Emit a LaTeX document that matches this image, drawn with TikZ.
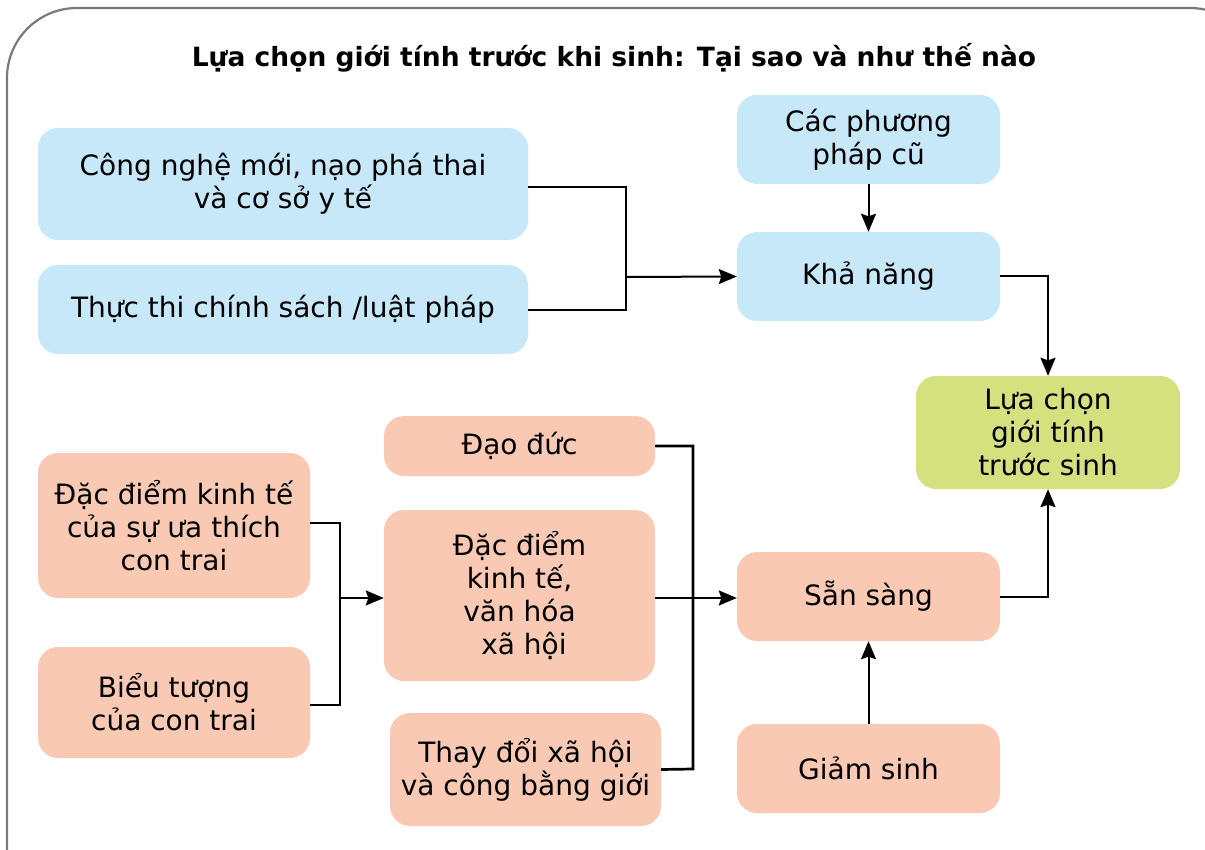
\documentclass[tikz,border=0pt]{standalone}
\usepackage{fontspec}
\setmainfont{DejaVu Sans}
\usetikzlibrary{arrows.meta}
\definecolor{bluebox}{HTML}{C7E8F8}
\definecolor{salmonbox}{HTML}{F9C9B4}
\definecolor{greenbox}{HTML}{D4E17E}
\definecolor{framegray}{HTML}{7A7A7A}
\tikzset{
  box/.style={rectangle, rounded corners=20pt, draw=none, align=center,
    font=\fontsize{28}{33}\selectfont, inner sep=0pt},
  bluestyle/.style={box, fill=bluebox},
  salmonstyle/.style={box, fill=salmonbox},
  greenstyle/.style={box, fill=greenbox},
  conn/.style={line width=2.7pt, black},
  arr/.style={line width=2pt, black, -{Stealth[length=18pt, width=15pt, inset=2.5pt]}},
}
\begin{document}
\begin{tikzpicture}[x=1pt, y=-1pt]
\useasboundingbox (0,0) rectangle (1205,850);
\draw[framegray, line width=2.2pt, rounded corners=70pt] (7,8) rectangle (1260,920);
\node[font=\bfseries\fontsize{26.5}{30}\selectfont] (title) at (614,58) {Lựa chọn giới tính trước khi sinh: Tại sao và như thế nào};

\node[bluestyle, minimum width=490pt, minimum height=112pt] (A) at (283,184) {Công nghệ mới, nạo phá thai\\và cơ sở y tế};
\node[bluestyle, minimum width=490pt, minimum height=89pt] (B) at (283,309.5) {Thực thi chính sách /luật pháp};
\node[bluestyle, minimum width=263pt, minimum height=89pt] (C) at (868.5,139.5) {Các phương\\pháp cũ};
\node[bluestyle, minimum width=263pt, minimum height=89pt] (D) at (868.5,276.5) {Khả năng};
\node[greenstyle, minimum width=264pt, minimum height=113pt] (E) at (1048,432.5) {Lựa chọn\\giới tính\\trước sinh};
\node[salmonstyle, minimum width=272pt, minimum height=145pt] (F) at (174,525.5) {Đặc điểm kinh tế\\của sự ưa thích\\con trai};
\node[salmonstyle, minimum width=272pt, minimum height=111pt] (G) at (174,702.5) {Biểu tượng\\của con trai};
\node[salmonstyle, minimum width=271pt, minimum height=60pt] (H) at (519.5,446) {Đạo đức};
\node[salmonstyle, minimum width=271pt, minimum height=171pt] (I) at (519.5,595.5) {Đặc điểm\\kinh tế,\\văn hóa\\\ xã hội};
\node[salmonstyle, minimum width=271pt, minimum height=113pt] (J) at (525.5,769.5) {Thay đổi xã hội\\và công bằng giới};
\node[salmonstyle, minimum width=263pt, minimum height=89pt] (K) at (868.5,596.5) {Sẵn sàng};
\node[salmonstyle, minimum width=263pt, minimum height=89pt] (L) at (868.5,768.5) {Giảm sinh};

% top-left merge
\coordinate (m1) at (626,277);
\draw[conn] (A.east |- 0,187) -- (626,187) -- (626,310) -- (B.east |- 0,310);
\draw[arr] (m1) -- (D.west);
% C -> D
\draw[arr] (C.south) -- (D.north);
% D -> E
\draw[arr] (D.east) -| (E.north);
% K -> E
\draw[arr] (K.east) -| (E.south);
% L -> K
\draw[arr] (L.north) -- (K.south);
% F,G merge -> I
\coordinate (m2) at (340,598);
\draw[conn] (F.east |- 0,523) -- (340,523) -- (340,705) -- (G.east |- 0,705);
\draw[arr] (m2) -- (I.west |- m2);
% H,J vertical
\draw[conn] (H.east) -- (693,446) -- (693,769) -- (J.east);
\draw[arr] (I.east |- 0,598) -- (K.west |- 0,598);
\end{tikzpicture}
\end{document}
